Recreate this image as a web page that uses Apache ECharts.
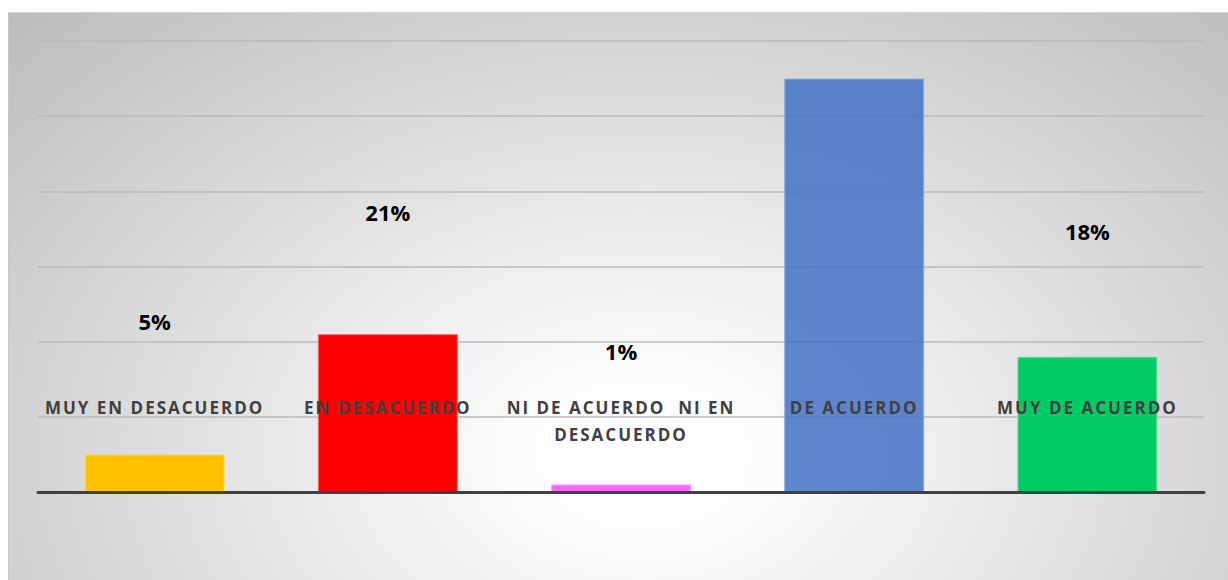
<!DOCTYPE html>
<html>
<head>
<meta charset="utf-8">
<script src="https://cdn.jsdelivr.net/npm/echarts@6/dist/echarts.min.js"></script>
<style>
  html, body { margin: 0; padding: 0; background: #ffffff; }
  #panel {
    position: absolute; left: 8px; top: 12px; width: 1220px; height: 568px;
    background: radial-gradient(ellipse farthest-corner at 52% 78%, #ffffff 0%, #fcfcfc 14%, #bcbcbc 100%);
    border-top: 1px solid #d4d4d4; border-left: 1px solid #c8c8c8; box-sizing: border-box;
  }
  #chart { position: absolute; left: 0; top: 0; width: 1228px; height: 580px; }
  /* spaced capitals for the category names */
  #chart text[fill="#404040"] { letter-spacing: 2px; }
</style>
</head>
<body>
<div id="panel"></div>
<div id="chart"></div>
<script>
// Survey answers (share of respondents, %)
const categories = ['MUY EN DESACUERDO', 'EN DESACUERDO', 'NI DE ACUERDO  NI EN\nDESACUERDO', 'DE ACUERDO', 'MUY DE ACUERDO'];
const percentages = [5, 21, 1, 55, 18];
const showValue = [true, true, true, false, true];
const yTicks = [0, 10, 20, 30, 40, 50, 60];

// styling per bar
const barColors = ['#FFC000', '#FF0000', '#FF66FF', 'rgba(68,114,196,0.85)', '#00CC66'];
const barEdges = ['#FFD966', '#FF6666', '#FF99FF', '#8FAADC', '#66E0A3'];
const labelLift = [-133, -122, -133, 0, -126];

const chart = echarts.init(document.getElementById('chart'), null, { renderer: 'svg' });

chart.setOption({
  backgroundColor: 'transparent',
  animation: false,
  grid: { left: 38, right: 24, top: 41, bottom: 88 },
  xAxis: {
    type: 'category',
    data: categories,
    z: 3,
    axisLine: { show: true, lineStyle: { color: '#404040', width: 3 } },
    axisTick: { show: false },
    axisLabel: {
      interval: 0,
      margin: -98,
      verticalAlign: 'top',
      lineHeight: 27,
      color: '#404040',
      fontFamily: 'Open Sans',
      fontWeight: 'bold',
      fontSize: 17
    }
  },
  yAxis: {
    type: 'value',
    min: yTicks[0],
    max: yTicks[yTicks.length - 1],
    interval: yTicks[1] - yTicks[0],
    axisLine: { show: false },
    axisTick: { show: false },
    axisLabel: { show: false },
    splitLine: { show: true, lineStyle: { color: '#bababa', width: 1.5 } }
  },
  series: [{
    type: 'bar',
    barWidth: '60%',
    z: 2,
    data: percentages.map((v, i) => ({
      value: v,
      itemStyle: { color: barColors[i], borderColor: barEdges[i], borderWidth: 1 },
      label: {
        show: showValue[i],
        position: 'top',
        distance: 0,
        verticalAlign: 'middle',
        offset: [0, labelLift[i]],
        formatter: '{c}%',
        color: '#000000',
        fontFamily: 'Open Sans',
        fontWeight: 'bold',
        fontSize: 22
      }
    }))
  }]
});
</script>
</body>
</html>
